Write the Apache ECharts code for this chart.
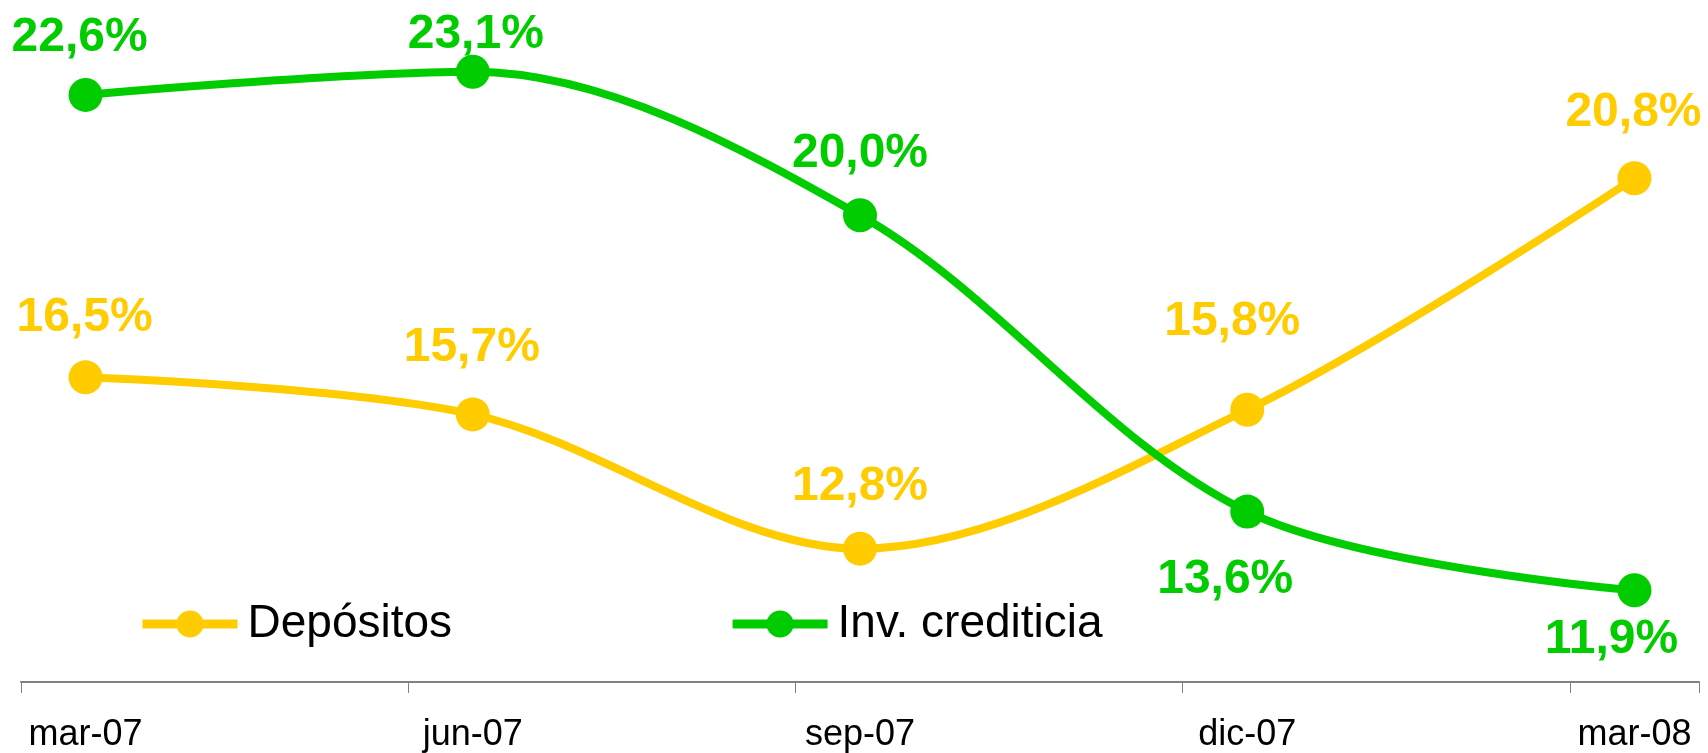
<!DOCTYPE html>
<html>
<head>
<meta charset="utf-8">
<script src="https://cdn.jsdelivr.net/npm/echarts@6/dist/echarts.min.js"></script>
<style>
  html, body { margin: 0; padding: 0; background: #fff; }
  #chart { width: 1708px; height: 753px; }
</style>
</head>
<body>
<div id="chart"></div>
<script>
// meses (solo se rotula uno de cada tres)
var months = ['mar-07', 'abr-07', 'may-07', 'jun-07', 'jul-07', 'ago-07', 'sep-07',
              'oct-07', 'nov-07', 'dic-07', 'ene-08', 'feb-08', 'mar-08'];
// tasas de variación interanual (%), datos trimestrales
var depositos = [16.5, null, null, 15.7, null, null, 12.8, null, null, 15.8, null, null, 20.8];
var inversion = [22.6, null, null, 23.1, null, null, 20.0, null, null, 13.6, null, null, 11.9];

// desplazamiento de las etiquetas respecto al punto, en orden de los puntos con valor
var depLabelOffsets = [[-1, -60], [-1, -67], [0, -62], [-15, -88], [-1, -65]];
var invLabelOffsets = [[-6, -57], [3, -37], [0, -62], [-22, 68], [-23, 49]];

var FONT = "Arial, 'Liberation Sans', sans-serif";
var YELLOW = '#FFCC00';
var GREEN = '#00CC00';

var fmt = function (v) {
    return v.toFixed(1).replace('.', ',') + '%';
};

var buildData = function (values, offsets, color) {
    var k = 0;
    return values.map(function (v) {
        if (v === null) return null;
        var off = offsets[k++];
        return {
            value: v,
            label: {
                show: true,
                position: 'inside',
                offset: off,
                formatter: fmt(v),
                color: color,
                fontFamily: FONT,
                fontSize: 48,
                fontWeight: 'bold'
            }
        };
    });
};

var makeSeries = function (name, values, offsets, color) {
    return {
        name: name,
        type: 'line',
        data: buildData(values, offsets, color),
        connectNulls: true,
        smooth: 0.33,
        symbol: 'circle',
        symbolSize: 34,
        showAllSymbol: true,
        itemStyle: { color: color },
        lineStyle: { color: color, width: 8 },
        emphasis: { disabled: true },
        z: 2
    };
};

var myChart = echarts.init(document.getElementById('chart'));
var option = {
    animation: false,
    backgroundColor: '#ffffff',
    grid: { left: 21, right: 9, top: 0, height: 682 },
    legend: {
        left: 133,
        top: 596,
        itemWidth: 95,
        itemHeight: 34,
        itemGap: 276,
        textStyle: { fontFamily: FONT, fontSize: 46, color: '#000', padding: [0, 0, 0, 5] },
        lineStyle: { width: 9 },
        data: ['Depósitos', 'Inv. crediticia']
    },
    xAxis: {
        type: 'category',
        data: months,
        boundaryGap: true,
        axisLine: { show: true, lineStyle: { color: '#808080', width: 2 } },
        axisTick: {
            show: true,
            length: 11,
            lineStyle: { color: '#808080', width: 1 },
            interval: function (i) { return i % 3 === 0; }
        },
        axisLabel: {
            interval: function (i) { return i % 3 === 0; },
            fontFamily: FONT,
            fontSize: 36,
            color: '#000',
            margin: 35
        }
    },
    yAxis: {
        type: 'value',
        min: 9.92,
        max: 24.65,
        show: false,
        splitLine: { show: false }
    },
    series: [
        makeSeries('Depósitos', depositos, depLabelOffsets, YELLOW),
        makeSeries('Inv. crediticia', inversion, invLabelOffsets, GREEN)
    ]
};
myChart.setOption(option);
window.onresize = myChart.resize;
</script>
</body>
</html>
